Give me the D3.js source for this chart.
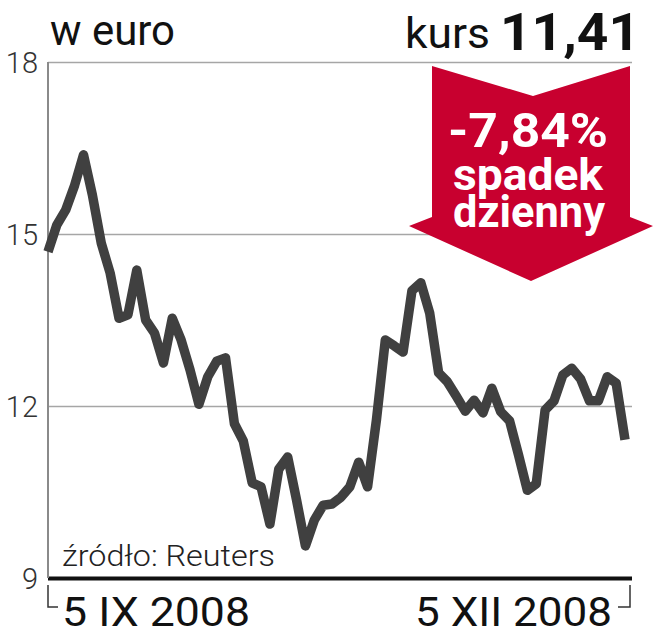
<!DOCTYPE html>
<html><head><meta charset="utf-8">
<script src="https://cdn.jsdelivr.net/npm/d3@7"></script>
<style>body{margin:0;background:#fff}</style>
</head><body><svg id="c" width="655" height="640"></svg>
<script>
// ---- data ----
const values = [14.69,15.16,15.42,15.85,16.38,15.68,14.84,14.32,13.53,13.59,
  14.37,13.50,13.27,12.75,13.53,13.15,12.63,12.03,12.51,12.78,
  12.84,11.69,11.39,10.66,10.59,9.94,10.90,11.11,10.36,9.56,
  10.01,10.27,10.29,10.41,10.59,11.02,10.59,11.76,13.15,13.05,
  12.94,14.01,14.15,13.62,12.58,12.42,12.17,11.91,12.10,11.88,
  12.31,11.90,11.74,11.15,10.53,10.64,11.93,12.09,12.54,12.66,
  12.47,12.09,12.09,12.51,12.40,11.41];
const yTicks = [9, 12, 15, 18];
const xLabels = ["5 IX 2008", "5 XII 2008"];
const titleText = "w euro";
const kursLabel = "kurs";
const kursValue = "11,41";
const changeLines = ["-7,84%", "spadek", "dzienny"];
const sourceText = "źródło: Reuters";

const svg = d3.select("#c");
const F = "Roboto, 'Open Sans', sans-serif";
const x = d3.scaleLinear().domain([0, values.length - 1]).range([48, 625]);
const y = d3.scaleLinear().domain([9, 18]).range([578, 62]);
const right = 632;

// gridlines + tick labels
const ax = svg.append("g").attr("transform", "translate(48,0)")
  .call(d3.axisLeft(y).tickValues(yTicks).tickSize(-(right - 48)).tickPadding(10).tickFormat(d3.format("d")));
ax.select(".domain").remove();
ax.selectAll(".tick line").attr("stroke", "#a6a6a6").attr("stroke-width", 1.6);
ax.selectAll(".tick").filter(d => d === 9).select("line").attr("stroke", "#111").attr("stroke-width", 4);
ax.selectAll(".tick text").attr("fill", "#333").attr("font-family", F).attr("font-weight", 300)
  .attr("font-size", 29).attr("dy", "0.36em");

// left axis line
svg.append("line").attr("x1", 48).attr("x2", 48).attr("y1", y(18)).attr("y2", y(9))
  .attr("stroke", "#8a8a8a").attr("stroke-width", 2);

// bottom brackets
svg.append("path").attr("d", `M48,585 V607 H58`).attr("fill", "none").attr("stroke", "#333").attr("stroke-width", 1.5);
svg.append("path").attr("d", `M630,585 V607 H618`).attr("fill", "none").attr("stroke", "#333").attr("stroke-width", 1.5);

// x labels
svg.append("text").text(xLabels[0]).attr("x", 62).attr("y", 626).attr("font-family", F)
  .attr("font-size", 40).attr("fill", "#111").attr("textLength", 188).attr("lengthAdjust", "spacingAndGlyphs");
svg.append("text").text(xLabels[1]).attr("x", 415).attr("y", 626).attr("font-family", F)
  .attr("font-size", 40).attr("fill", "#111").attr("textLength", 197).attr("lengthAdjust", "spacingAndGlyphs");

// source
svg.append("text").text(sourceText).attr("x", 62).attr("y", 566).attr("font-family", F).attr("font-weight", 300)
  .attr("font-size", 30).attr("fill", "#222").attr("textLength", 213).attr("lengthAdjust", "spacingAndGlyphs");

// line
svg.append("path").datum(values)
  .attr("d", d3.line().x((d, i) => x(i)).y(d => y(d)))
  .attr("fill", "none").attr("stroke", "#404040").attr("stroke-width", 9.5)
  .attr("stroke-linejoin", "round");

// title
svg.append("text").text(titleText).attr("x", 50).attr("y", 45).attr("font-family", F)
  .attr("font-size", 42).attr("fill", "#111").attr("textLength", 125).attr("lengthAdjust", "spacingAndGlyphs");
svg.append("text").text(kursLabel).attr("x", 405).attr("y", 48).attr("font-family", F)
  .attr("font-size", 43).attr("fill", "#111").attr("textLength", 85).attr("lengthAdjust", "spacingAndGlyphs");
svg.append("text").text(kursValue).attr("x", 500).attr("y", 50).attr("font-family", F).attr("font-weight", 700)
  .attr("font-size", 51).attr("fill", "#111").attr("textLength", 140).attr("lengthAdjust", "spacingAndGlyphs");

// arrow
const arrowPts = [[432,66],[533,96],[630,66],[630,217],[653,226],[531,281],[409,226],[432,217]];
svg.append("path").attr("d", d3.line()(arrowPts) + "Z").attr("fill", "#c8002f");
const cw = [[448, 147, 48, 160], [453, 190, 44, 150], [453, 227, 44, 152]];
changeLines.forEach((t, i) => {
  svg.append("text").text(t).attr("x", cw[i][0]).attr("y", cw[i][1]).attr("font-family", F).attr("font-weight", 700)
    .attr("font-size", cw[i][2]).attr("fill", "#fff").attr("textLength", cw[i][3]).attr("lengthAdjust", "spacingAndGlyphs");
});
</script></body></html>
